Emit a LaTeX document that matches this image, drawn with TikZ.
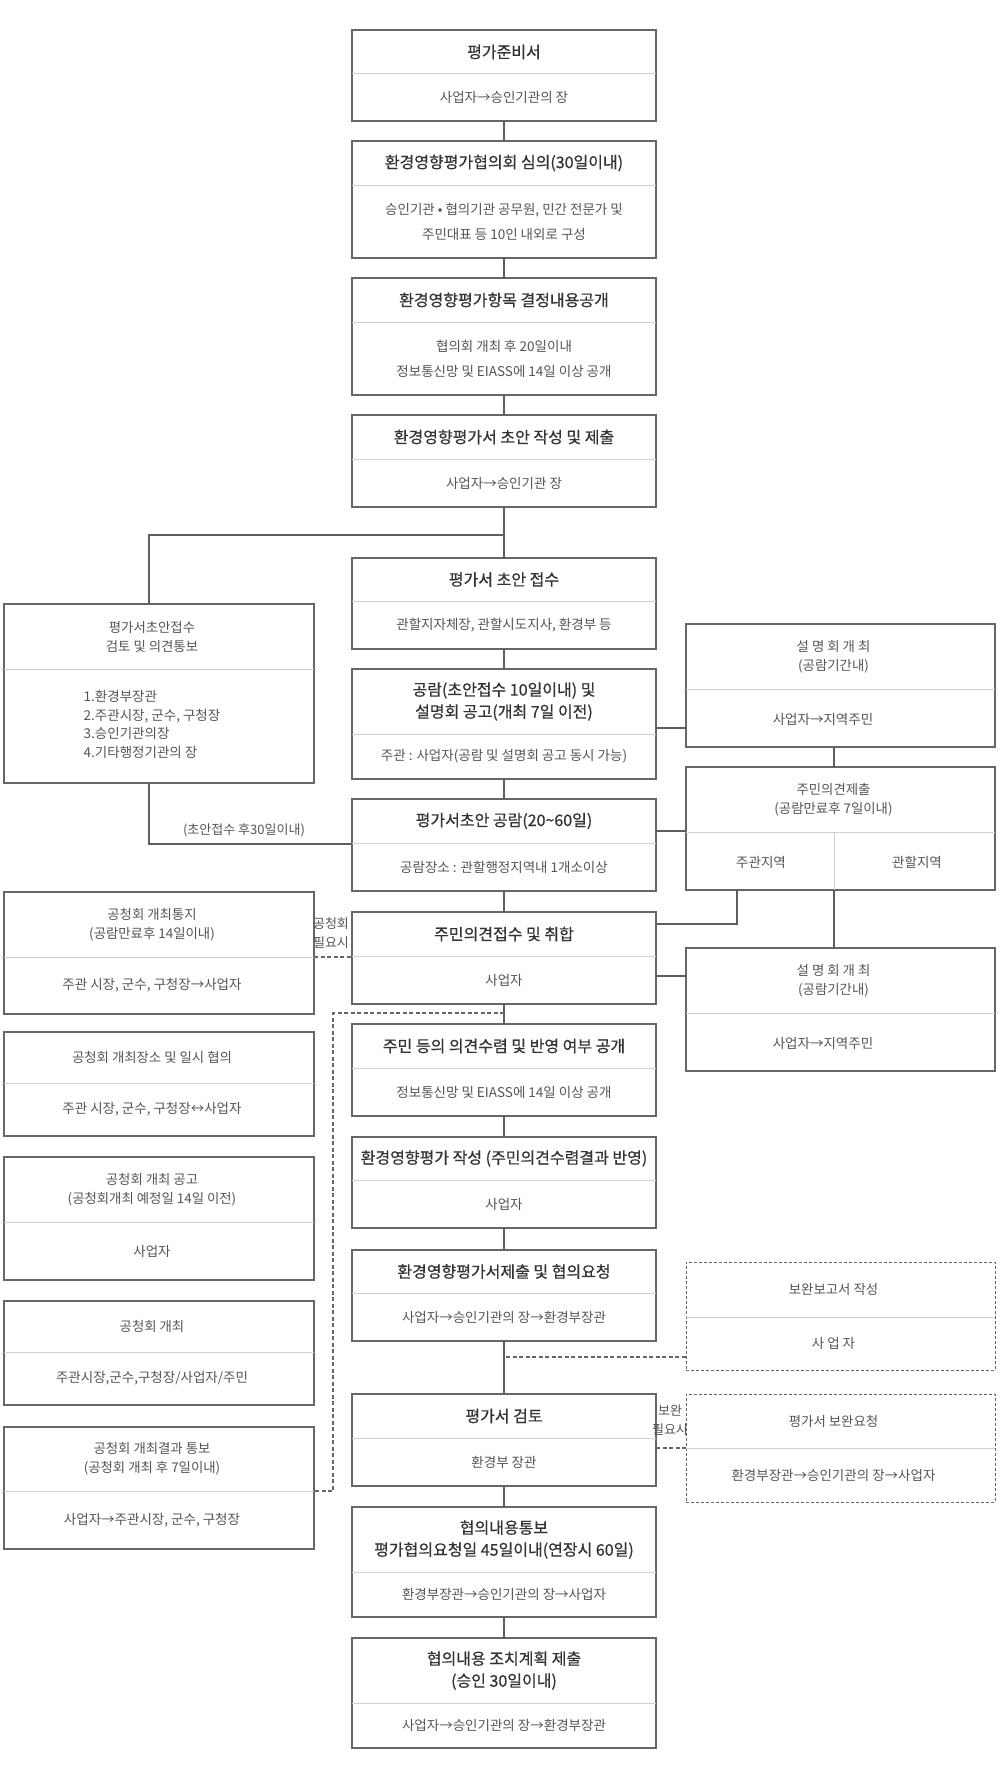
\documentclass[tikz,border=0pt]{standalone}
\usepackage{fontspec}
\newfontfamily\kr{Noto Sans CJK KR}
\newfontfamily\krb{Noto Sans CJK KR}[FakeBold=0.6]
\usetikzlibrary{calc}
\definecolor{bordc}{HTML}{666666}
\definecolor{divc}{HTML}{CFCFCF}
\definecolor{connc}{HTML}{5E5E5E}
\definecolor{titc}{HTML}{333333}
\definecolor{subc}{HTML}{555555}
\tikzset{
 cbox/.style={draw=bordc, line width=1.4pt, fill=white, rectangle, inner sep=0pt, outer sep=0pt, anchor=north west},
 sbox/.style={cbox},
 dbox/.style={cbox, line width=1pt, dash pattern=on 3pt off 2pt},
 divline/.style={draw=divc, line width=1pt},
 conn/.style={draw=connc, line width=2.4pt},
 dconn/.style={draw=bordc, line width=1.1pt, dash pattern=on 4pt off 2.5pt},
 cttl/.style={font=\fontsize{16}{22}\selectfont\krb, text=titc, align=center, inner sep=0pt},
 csub/.style={font=\fontsize{13.5}{25}\selectfont\kr, text=subc, align=center, inner sep=0pt},
 sttl/.style={font=\fontsize{13.4}{19}\selectfont\kr, text=subc, align=center, inner sep=0pt},
 ssub/.style={font=\fontsize{13.5}{18.5}\selectfont\kr, text=subc, align=center, inner sep=0pt},
 dttl/.style={sttl},
 dsub/.style={ssub},
 lbl/.style={font=\fontsize{13}{19}\selectfont\kr, text=subc, align=center, inner sep=0pt},
}
\def\offc{0}
\def\offs{7}
\def\offd{7}
% #1 name, #2 kind (c/s/d), #3 x1, #4 x2, #5 ytop, #6 ydiv, #7 ybot, #8 title, #9 sub
\newcommand\mybox[9]{%
 \node[#2box, minimum width={(#4-#3)*1pt}, minimum height={(#7-#5)*1pt}] (#1) at (#3,#5) {};
 \draw[divline] (#3,#6) -- (#4,#6);
 \node[#2ttl] (#1-t) at ({(#3+#4)/2-\csname off#2\endcsname},{(#5+#6)/2}) {#8};
 \node[#2sub] (#1-s) at ({(#3+#4)/2-\csname off#2\endcsname},{(#6+#7)/2}) {#9};
}
\begin{document}
\begin{tikzpicture}[x=1pt,y=-1pt]
\fill[white] (0,0) rectangle (1000,1782);
\useasboundingbox (0,0) rectangle (1000,1782);

% central column
\mybox{b1}{c}{352}{656}{30}{74}{121}{평가준비서}{사업자→승인기관의 장}
\mybox{b2}{c}{352}{656}{141}{185}{258}{환경영향평가협의회 심의(30일이내)}{승인기관 • 협의기관 공무원, 민간 전문가 및\\주민대표 등 10인 내외로 구성}
\mybox{b3}{c}{352}{656}{278}{322}{395}{환경영향평가항목 결정내용공개}{협의회 개최 후 20일이내\\정보통신망 및 EIASS에 14일 이상 공개}
\mybox{b4}{c}{352}{656}{415}{459}{507}{환경영향평가서 초안 작성 및 제출}{사업자→승인기관 장}
\mybox{b5}{c}{352}{656}{558}{601}{649}{평가서 초안 접수}{관할지자체장, 관할시도지사, 환경부 등}
\mybox{b6}{c}{352}{656}{669}{734}{779}{공람(초안접수 10일이내) 및\\설명회 공고(개최 7일 이전)}{주관 : 사업자(공람 및 설명회 공고 동시 가능)}
\mybox{b7}{c}{352}{656}{799}{843}{891}{평가서초안 공람(20\textasciitilde60일)}{공람장소 : 관할행정지역내 1개소이상}
\mybox{b8}{c}{352}{656}{912}{956}{1004}{주민의견접수 및 취합}{사업자}
\mybox{b9}{c}{352}{656}{1024}{1068}{1116}{주민 등의 의견수렴 및 반영 여부 공개}{정보통신망 및 EIASS에 14일 이상 공개}
\mybox{b10}{c}{352}{656}{1137}{1180}{1228}{환경영향평가 작성 (주민의견수렴결과 반영)}{사업자}
\mybox{b11}{c}{352}{656}{1250}{1293}{1341}{환경영향평가서제출 및 협의요청}{사업자→승인기관의 장→환경부장관}
\mybox{b12}{c}{352}{656}{1394}{1438}{1486}{평가서 검토}{환경부 장관}
\mybox{b13}{c}{352}{656}{1507}{1572}{1617}{협의내용통보\\평가협의요청일 45일이내(연장시 60일)}{환경부장관→승인기관의 장→사업자}
\mybox{b14}{c}{352}{656}{1638}{1703}{1748}{협의내용 조치계획 제출\\(승인 30일이내)}{사업자→승인기관의 장→환경부장관}

% left column
\mybox{l1}{s}{4}{314}{604}{669}{783}{평가서초안접수\\검토 및 의견통보}{\begin{tabular}{@{}l@{}}1.환경부장관\\2.주관시장, 군수, 구청장\\3.승인기관의장\\4.기타행정기관의 장\end{tabular}}
\mybox{l2}{s}{4}{314}{892}{957}{1014}{공청회 개최통지\\(공람만료후 14일이내)}{주관 시장, 군수, 구청장→사업자}
\mybox{l3}{s}{4}{314}{1032}{1083}{1136}{공청회 개최장소 및 일시 협의}{주관 시장, 군수, 구청장↔사업자}
\mybox{l4}{s}{4}{314}{1157}{1222}{1280}{공청회 개최 공고\\(공청회개최 예정일 14일 이전)}{사업자}
\mybox{l5}{s}{4}{314}{1301}{1352}{1405}{공청회 개최}{주관시장,군수,구청장/사업자/주민}
\mybox{l6}{s}{4}{314}{1427}{1491}{1549}{공청회 개최결과 통보\\(공청회 개최 후 7일이내)}{사업자→주관시장, 군수, 구청장}

% right column
\mybox{r1}{s}{686}{995}{624}{689}{747}{설 명 회 개 최\\(공람기간내)}{}
\node[ssub] (r1s) at (823,719) {사업자→지역주민};
\mybox{r2}{s}{686}{995}{767}{832}{890}{주민의견제출\\(공람만료후 7일이내)}{}
\draw[divline] (834,832) -- (834,890);
\node[ssub] (r2a) at (761,862) {주관지역};
\node[ssub] (r2b) at (917,862) {관할지역};
\mybox{r3}{s}{686}{995}{948}{1013}{1071}{설 명 회 개 최\\(공람기간내)}{}
\node[ssub] (r3s) at (823,1043) {사업자→지역주민};
\mybox{r4}{d}{686}{995}{1262}{1317}{1370}{보완보고서 작성}{사 업 자}
\mybox{r5}{d}{686}{995}{1394}{1448}{1502}{평가서 보완요청}{환경부장관→승인기관의 장→사업자}

% solid connectors, main column
\draw[conn] (b1.south) -- (b2.north);
\draw[conn] (b2.south) -- (b3.north);
\draw[conn] (b3.south) -- (b4.north);
\draw[conn] (b4.south) -- (b5.north);
\draw[conn] (b5.south) -- (b6.north);
\draw[conn] (b6.south) -- (b7.north);
\draw[conn] (b7.south) -- (b8.north);
\draw[conn] (b8.south) -- (b9.north);
\draw[conn] (b9.south) -- (b10.north);
\draw[conn] (b10.south) -- (b11.north);
\draw[conn] (b11.south) -- (b12.north);
\draw[conn] (b12.south) -- (b13.north);
\draw[conn] (b13.south) -- (b14.north);

% branch to left review box
\coordinate (j1) at (504,535);
\coordinate (l1top) at (149,604);
\coordinate (l1bot) at (149,783);
\draw[conn] (j1) -| (l1top);
\draw[conn] (l1bot) |- (b7.west |- 0,844);
\node[lbl] (lab1) at (244,830) {(초안접수 후30일이내)};

% right side connectors
\draw[conn] (b6.east |- 0,728) -- (r1.west |- 0,728);
\draw[conn] (r1.south -| 834,0) -- (r2.north -| 834,0);
\draw[conn] (b7.east |- 0,831) -- (r2.west |- 0,831);
\draw[conn] (r2.south -| 737,0) |- (b8.east |- 0,924);
\draw[conn] (r2.south -| 834,0) -- (r3.north -| 834,0);
\draw[conn] (b8.east |- 0,976) -- (r3.west |- 0,976);

% dashed connectors
\draw[dconn] (l2.east |- 0,957) -- (b8.west |- 0,957);
\node[lbl] (lab2) at (331,933) {공청회\\필요시};
\coordinate (d1) at (504,1013);
\coordinate (d2) at (333,1013);
\draw[dconn] (d1) -- (d2) |- (l6.east |- 0,1491);
\coordinate (d3) at (506,1357);
\draw[dconn] (d3) -- (r4.west |- 0,1357);
\draw[dconn] (b12.east |- 0,1448) -- (r5.west |- 0,1448);
\node[lbl] (lab3) at (670,1420) {보완\\필요시};
\end{tikzpicture}
\end{document}
